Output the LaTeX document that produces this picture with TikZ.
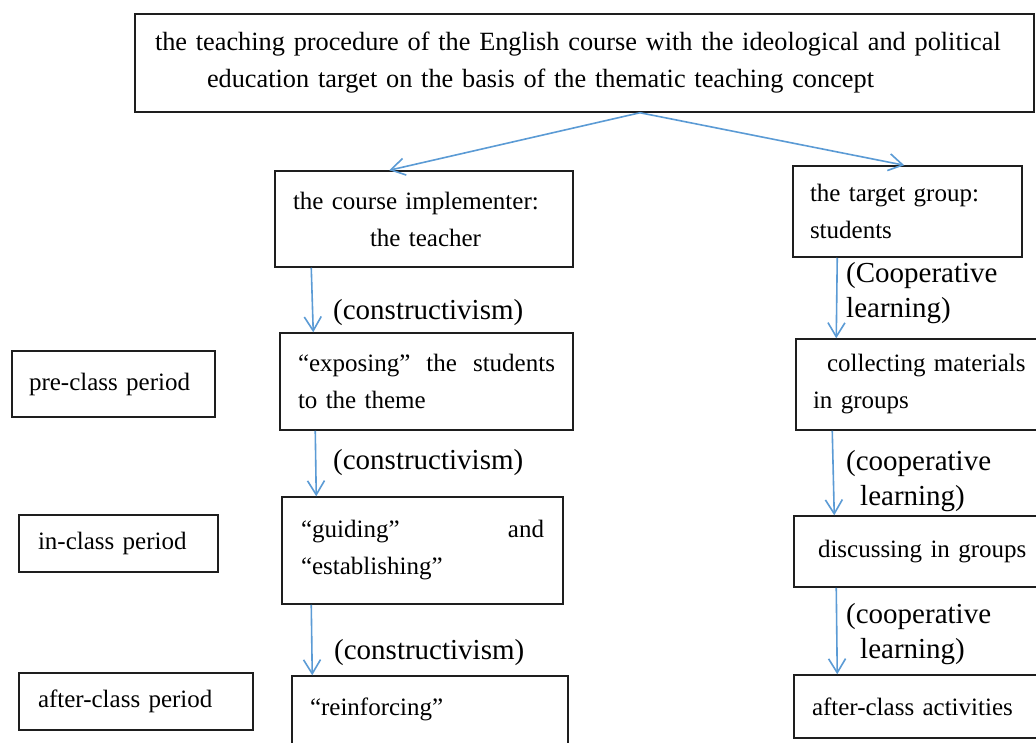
\documentclass[tikz,border=0pt]{standalone}
\usepackage{fontspec}
\setmainfont{Liberation Serif}
\usetikzlibrary{arrows.meta,calc}
\definecolor{arrowblue}{RGB}{91,155,213}
\definecolor{boxline}{RGB}{30,30,30}
\begin{document}
\begin{tikzpicture}[x=1pt,y=-1pt,
  box/.style={draw=boxline,line width=1.5pt,rectangle,inner ysep=0pt,inner xsep=18pt,
    align=left,font=\fontsize{25}{37}\selectfont},
  lbl/.style={inner sep=0pt,align=left,anchor=west,font=\fontsize{29}{35}\selectfont},
  arr/.style={draw=arrowblue,line width=1.6pt,
    -{Straight Barb[length=14pt,width=17pt,line width=1.6pt]}}]
\clip (0,0) rectangle (1036,742);
\fill[white] (0,0) rectangle (1036,742);

% title box
\node[box,inner xsep=8pt,text width=883pt,minimum height=98pt,font=\fontsize{26.3}{37}\selectfont]
  (top) at (584.5,63) {\hspace*{12pt}the teaching procedure of the English course with the ideological and political\\\hspace*{64pt}education target on the basis of the thematic teaching concept};

% teacher column
\node[box,text width=262pt,minimum height=96pt] (teacher) at (424,219)
  {the course implementer:\\\hspace*{77pt}the teacher};
\node[box,text width=257pt,minimum height=97pt] (expose) at (426.5,381.5)
  {“exposing”\hfill the\hfill students\\to the theme};
\node[box,inner xsep=19pt,text width=243pt,minimum height=107pt] (guide) at (422.5,550.5)
  {“guiding”\hfill and\\“establishing”};
\node[box,text width=240pt,minimum height=99pt] (reinf) at (430,725.5)
  {“reinforcing”\\\mbox{}};

% student column
\node[box,inner xsep=17pt,text width=195pt,minimum height=91pt] (target) at (907.5,211.5)
  {the target group:\\students};
\node[box,inner xsep=17pt,text width=230pt,minimum height=91pt] (collect) at (928,384.5)
  {\hspace*{14pt}collecting materials\\in groups};
\node[box,inner xsep=24pt,text width=218pt,minimum height=71pt] (discuss) at (927,551.5)
  {discussing in groups};
\node[box,text width=230pt,minimum height=63pt] (activ) at (927,706.5)
  {after-class activities};

% period column
\node[box,inner xsep=17pt,text width=169pt,minimum height=66pt] (pre) at (113.5,384)
  {pre-class period};
\node[box,inner xsep=19pt,text width=161pt,minimum height=57pt] (inclass) at (118.5,543.5)
  {in-class period};
\node[box,inner xsep=19pt,text width=196pt,minimum height=57pt] (after) at (136,701.5)
  {after-class period};

% connectors
\coordinate (fork) at ($(top.south)+(55.5,0)$);
\draw[arr] (fork) -- ($(teacher.north west)+(115,0)$);
\draw[arr] (fork) -- ($(target.north west)+(112,0)$);

\draw[arr] ($(teacher.south west)+(37,0)$) -- ($(expose.north west)+(34,0)$);
\draw[arr] ($(expose.south west)+(36,0)$) -- ($(guide.north west)+(35,0)$);
\draw[arr] ($(guide.south west)+(30,0)$) -- ($(reinf.north west)+(21,0)$);

\draw[arr] ($(target.south west)+(45,0)$) -- ($(collect.north west)+(41,0)$);
\draw[arr] ($(collect.south west)+(37,0)$) -- ($(discuss.north west)+(41,0)$);
\draw[arr] ($(discuss.south west)+(43,0)$) -- ($(activ.north west)+(44,0)$);

% edge labels
\node[lbl] (c1) at (333,313) {(constructivism)};
\node[lbl] (c2) at (333,463) {(constructivism)};
\node[lbl] (c3) at (334,653) {(constructivism)};
\node[lbl] (k1) at (846,293.5) {(Cooperative\\learning)};
\node[lbl] (k2) at (846,481.5) {(cooperative\\\hspace*{14pt}learning)};
\node[lbl] (k3) at (846,634.5) {(cooperative\\\hspace*{14pt}learning)};
\end{tikzpicture}
\end{document}
